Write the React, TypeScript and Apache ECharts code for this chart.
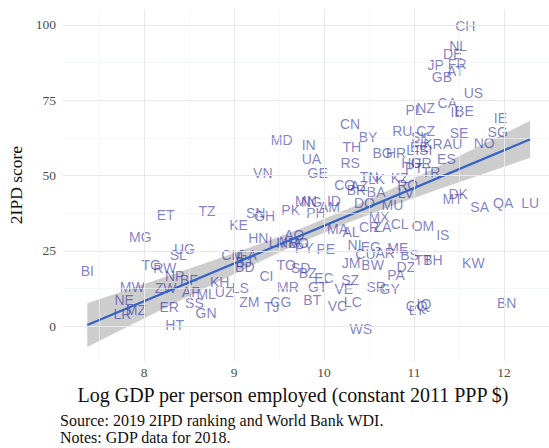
import React, { useEffect, useRef } from "react";
import * as echarts from "echarts";

// Country codes with log GDP per person employed (x) and 2IPD score (y)
const countryCodes = [
  "CH","NL","DE","JP","FR","AT","GB","US","CA","NZ","PL","IL","BE","IE","SG","NO","SE","AU","KR",
  "CN","BY","IN","TH","UA","RS","GE","RU","CZ","SK","BG","HR","EE","LT","SI","HU","GR","PT","TR","ES",
  "MD","VN","ET","TZ","SN","GH","KE","PK","MG","HN","LA","AO","MM","BO","PY","UG","SL","TG","RW","BI",
  "CM","GA","BJ","BD","NP","BF","MW","ZW","AF","ML","KH","UZ","LS","NE","MZ","LR","ER","SS","GN","HT",
  "ZM","TJ","CG","CI","MR","TO","SD","BZ","BT","GT","EC","SZ","VE","SR","GY","VC","LC","WS","GQ","LY",
  "IQ","BN","KW","DK","MT","SA","QA","LU","TN","LK","KZ","RO","LV","CO","AZ","BR","BA","ID","MN","NG",
  "PH","AM","DO","MU","MX","CL","CR","ZA","MA","AL","OM","IS","PE","NI","EG","CU","AR","ME","BS","TT",
  "BH","JM","BW","DZ","PA"
];
const logGdp = [
  11.57,11.49,11.43,11.24,11.48,11.46,11.31,11.66,11.37,11.13,11.00,11.47,11.56,11.96,11.93,11.78,11.50,11.43,11.21,
  10.29,10.49,9.83,10.31,9.86,10.29,9.93,10.87,11.13,11.07,10.65,10.80,11.06,11.00,11.13,10.97,11.08,11.00,11.19,11.36,
  9.53,9.32,8.24,8.70,9.24,9.34,9.05,9.63,7.96,9.27,9.48,9.67,9.60,9.72,9.78,8.45,8.38,8.08,8.23,7.37,
  8.98,9.14,9.11,9.12,8.34,8.50,7.87,8.24,8.52,8.69,8.84,8.89,9.07,7.78,7.91,7.76,8.28,8.56,8.69,8.34,
  9.17,9.42,9.52,9.36,9.60,9.58,9.74,9.82,9.87,9.93,10.00,10.29,10.22,10.58,10.73,10.15,10.32,10.41,11.03,11.03,
  11.11,12.03,11.66,11.49,11.43,11.73,11.99,12.29,10.50,10.58,10.84,10.93,10.91,10.23,10.39,10.36,10.58,10.11,9.80,9.86,
  9.91,10.06,10.45,10.76,10.61,10.84,10.50,10.65,10.15,10.30,11.10,11.32,10.02,10.34,10.52,10.46,10.68,10.82,10.95,11.10,
  11.21,10.30,10.54,10.91,10.80
];
const ipdScore = [
  99.8,93.1,90.4,86.7,87.0,84.8,82.6,77.5,74.2,72.3,71.8,71.2,71.5,69.0,64.4,60.9,64.0,60.5,60.5,
  67.1,62.7,60.1,59.6,55.4,54.1,50.7,64.8,64.8,62.7,57.4,57.4,59.6,58.5,58.5,54.1,54.1,52.4,51.3,55.4,
  61.8,51.0,36.9,38.3,37.6,36.5,33.6,38.5,29.7,29.1,27.9,30.2,27.6,27.6,25.9,25.6,23.6,20.3,19.2,18.4,
  23.6,23.6,21.3,19.6,16.6,15.3,12.9,12.5,11.4,10.6,14.7,11.4,12.5,8.6,5.3,4.0,6.4,7.6,4.4,0.3,
  8.1,6.4,8.1,16.6,13.1,20.3,19.2,17.5,8.6,13.1,15.8,15.4,12.3,13.1,12.3,6.8,8.1,-1.1,6.8,5.3,
  7.3,7.7,21.0,44.0,42.1,39.6,41.0,41.0,49.4,49.0,49.1,46.8,44.1,46.8,46.5,45.2,44.6,41.6,41.4,41.2,
  37.4,39.6,41.0,40.2,36.3,33.9,33.0,32.8,32.1,31.3,33.2,30.2,25.5,26.9,26.2,23.9,24.3,25.8,23.6,22.1,
  21.9,20.8,20.3,19.5,16.9
];

// Fitted line and its confidence band
const fitX = [7.37, 12.29];
const fitY = [0.32, 62.02];
const bandX = [7.37, 7.75, 8.25, 8.75, 9.25, 9.75, 10.25, 10.75, 11.25, 11.75, 12.29];
const bandLow = [-6.91, -1.22, 6.24, 13.63, 20.89, 27.84, 34.18, 39.87, 45.19, 50.36, 55.86];
const bandHigh = [7.55, 11.4, 16.48, 21.63, 26.91, 32.5, 38.7, 45.55, 52.77, 60.14, 68.18];

// Axes
const xTicks = [8, 9, 10, 11, 12];
const xMinorTicks = [7.5, 8.5, 9.5, 10.5, 11.5, 12.5];
const yTicks = [0, 25, 50, 75, 100];
const yMinorTicks = [12.5, 37.5, 62.5, 87.5];
const xRange = [7.1, 12.5];
const yRange = [-11.6, 105.3];

const xTitle = "Log GDP per person employed (constant 2011 PPP $)";
const yTitle = "2IPD score";
const sourceNote = "Source: 2019 2IPD ranking and World Bank WDI.";
const dataNote = "Notes: GDP data for 2018.";

const SERIF = "'Liberation Serif', 'DejaVu Serif', serif";
const SANS = "'Liberation Sans', Arial, sans-serif";

export default function App() {
  const ref = useRef<HTMLDivElement>(null);

  useEffect(() => {
    document.body.style.margin = "0";
    if (!ref.current) return;
    const chart = echarts.init(ref.current, null, { renderer: "svg" });

    const majorStyle = { color: "#e6e8eb", width: 1, type: "solid" };
    const minorStyle = { color: "#f0f1f3", width: 0.6, type: "solid" };
    const gridLines = [
      ...xMinorTicks.map((v) => ({ xAxis: v, lineStyle: minorStyle })),
      ...yMinorTicks.map((v) => ({ yAxis: v, lineStyle: minorStyle })),
      ...xTicks.map((v) => ({ xAxis: v, lineStyle: majorStyle })),
      ...yTicks.map((v) => ({ yAxis: v, lineStyle: majorStyle })),
    ];

    const option: any = {
      animation: false,
      backgroundColor: "#ffffff",
      grid: { left: 63, right: 0, top: 9, bottom: 87, containLabel: false, outerBoundsMode: "none" },
      xAxis: {
        type: "value",
        min: xRange[0],
        max: xRange[1],
        axisLine: { show: false },
        axisTick: { show: false },
        splitLine: { show: false },
        axisLabel: {
          customValues: xTicks,
          margin: 4,
          color: "#4d4d4d",
          fontSize: 13.5,
          fontFamily: SERIF,
        },
        name: xTitle,
        nameLocation: "middle",
        nameGap: 24,
        nameTextStyle: {
          fontFamily: SERIF,
          fontSize: 20,
          color: "#111",
          verticalAlign: "top",
          padding: [0, 26, 0, 0],
        },
      },
      yAxis: {
        type: "value",
        min: yRange[0],
        max: yRange[1],
        axisLine: { show: false },
        axisTick: { show: false },
        splitLine: { show: false },
        axisLabel: {
          customValues: yTicks,
          margin: 7,
          color: "#4d4d4d",
          fontSize: 13.5,
          fontFamily: SERIF,
        },
        name: yTitle,
        nameLocation: "middle",
        nameGap: 33,
        nameTextStyle: { fontFamily: SERIF, fontSize: 17.5, color: "#111" },
      },
      graphic: [
        {
          type: "text",
          left: 60,
          top: 412,
          style: { text: sourceNote, font: `16px ${SERIF}`, fill: "#111" },
        },
        {
          type: "text",
          left: 60,
          top: 429,
          style: { text: dataNote, font: `16px ${SERIF}`, fill: "#111" },
        },
      ],
      series: [
        {
          type: "line",
          data: [],
          z: 1,
          silent: true,
          markLine: { silent: true, symbol: ["none", "none"], label: { show: false }, data: gridLines },
        },
        {
          type: "custom",
          z: 2,
          silent: true,
          data: [[bandX[0], bandLow[0]]],
          renderItem: (_params: any, api: any) => {
            const upper = bandX.map((x, i) => api.coord([x, bandHigh[i]]));
            const lower = bandX.map((x, i) => api.coord([x, bandLow[i]])).reverse();
            return {
              type: "polygon",
              shape: { points: upper.concat(lower) },
              style: { fill: "rgba(150,150,150,0.48)" },
            };
          },
        },
        {
          type: "scatter",
          z: 3,
          silent: true,
          symbolSize: 1,
          itemStyle: { color: "rgba(0,0,0,0)" },
          label: {
            show: true,
            position: "inside",
            formatter: "{b}",
            color: "rgba(55,55,165,0.8)",
            fontSize: 14,
            fontFamily: SANS,
          },
          data: countryCodes.map((c, i) => ({ name: c, value: [logGdp[i], ipdScore[i]] })),
        },
        {
          type: "line",
          z: 4,
          silent: true,
          showSymbol: false,
          lineStyle: { color: "#3461c9", width: 2.2 },
          data: fitX.map((x, i) => [x, fitY[i]]),
        },
      ],
    };
    chart.setOption(option);
    return () => chart.dispose();
  }, []);

  return <div ref={ref} style={{ width: 549, height: 448 }} />;
}
